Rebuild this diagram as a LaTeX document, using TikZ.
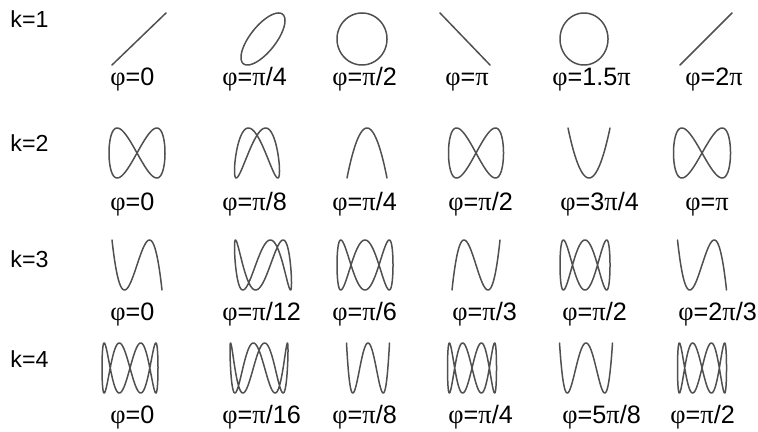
\documentclass[tikz,border=0pt]{standalone}
\usepackage{fontspec}
\setmainfont{Liberation Sans}
\newfontfamily\grkfont[Scale=1.05]{Liberation Serif}
\usepackage{xcolor}
\definecolor{curvegray}{HTML}{505050}
\newcommand{\lphi}{{\grkfont φ}}
\newcommand{\lpi}{{\grkfont π}}

\begin{document}
\begin{tikzpicture}[x=0.5pt, y=-0.5pt,
    lcurve/.style={curvegray, line width=0.75pt, line join=round},
    klab/.style={anchor=base west, inner sep=0pt, font=\fontsize{11.6}{14}\selectfont},
    plab/.style={anchor=base west, inner sep=0pt, font=\fontsize{12.6}{15}\selectfont}]
  \useasboundingbox (0,0) rectangle (758,432);
  % k=1
  \node[klab] (k1) at (10,28) {k=1};
  \foreach \cx/\ax/\ph/\lx/\txt [count=\i] in {139/27/0/110/{\lphi=0}, 263/22/45/222/{\lphi=\lpi/4},
      362/25/90/332/{\lphi=\lpi/2}, 465/25/180/445/{\lphi=\lpi}, 584/24/270/552/{\lphi=1.5\lpi}, 706/26/360/685/{\lphi=2\lpi}} {
    \draw[lcurve] plot[variable=\t, domain=0:360, samples=120, smooth]
      ({\cx+\ax*sin(\t)}, {39-26*sin(\t+\ph)});
    \node[plab] (p1\i) at (\lx,86) {\txt};
  }
  % k=2
  \node[klab] (k2) at (10,152) {k=2};
  \foreach \cx/\ax/\ph/\lx/\txt [count=\i] in {137/28/0/110/{\lphi=0}, 257/22.5/22.5/222/{\lphi=\lpi/8},
      367/20/45/332/{\lphi=\lpi/4}, 476/27.5/90/448/{\lphi=\lpi/2}, 589/21/135/560/{\lphi=3\lpi/4}, 702/28.5/180/685/{\lphi=\lpi}} {
    \draw[lcurve] plot[variable=\t, domain=0:360, samples=160, smooth]
      ({\cx+\ax*sin(\t)}, {153-25*sin(2*(\t+\ph))});
    \node[plab] (p2\i) at (\lx,211) {\txt};
  }
  % k=3
  \node[klab] (k3) at (10,267) {k=3};
  \foreach \cx/\ax/\ph/\lx/\txt [count=\i] in {137/25/0/110/{\lphi=0}, 263/28.5/15/222/{\lphi=\lpi/12},
      365/28/30/332/{\lphi=\lpi/6}, 476/24/60/452/{\lphi=\lpi/3}, 585/25/90/562/{\lphi=\lpi/2}, 702/24.5/120/678/{\lphi=2\lpi/3}} {
    \draw[lcurve] plot[variable=\t, domain=0:360, samples=200, smooth]
      ({\cx+\ax*sin(\t)}, {265-25*sin(3*(\t+\ph))});
    \node[plab] (p3\i) at (\lx,320) {\txt};
  }
  % k=4
  \node[klab] (k4) at (10,367) {k=4};
  \foreach \cx/\ax/\ph/\lx/\txt [count=\i] in {130/28/0/110/{\lphi=0}, 259/29/11.25/222/{\lphi=\lpi/16},
      368/21.5/22.5/332/{\lphi=\lpi/8}, 472/24.5/45/448/{\lphi=\lpi/4}, 586/26.5/112.5/562/{\lphi=5\lpi/8}, 702/24.5/90/670/{\lphi=\lpi/2}} {
    \draw[lcurve] plot[variable=\t, domain=0:360, samples=240, smooth]
      ({\cx+\ax*sin(\t)}, {368-25*sin(4*(\t+\ph))});
    \node[plab] (p4\i) at (\lx,423) {\txt};
  }
\end{tikzpicture}
\end{document}
